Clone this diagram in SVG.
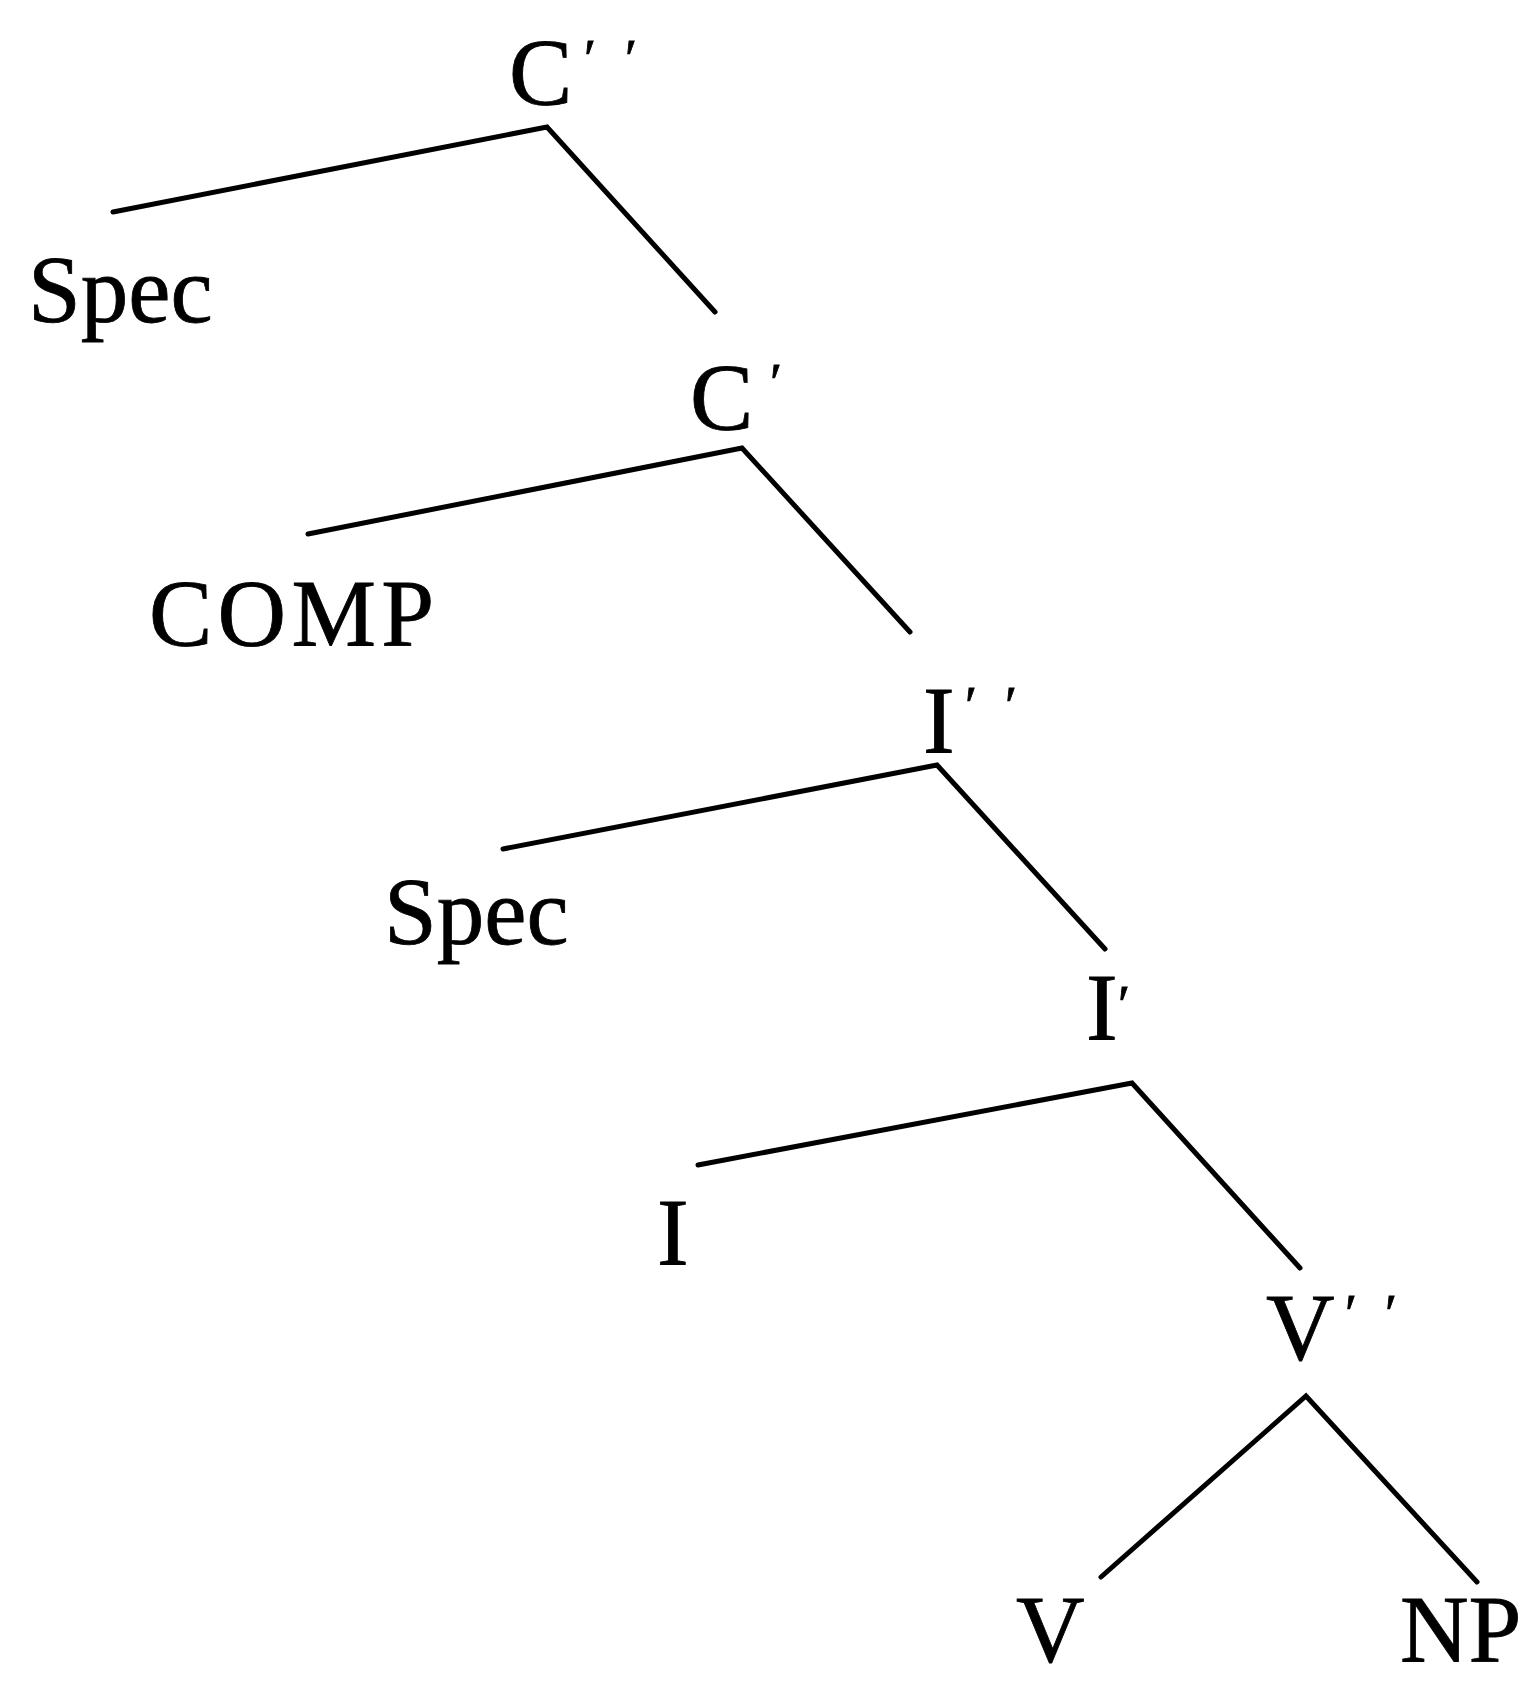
<svg xmlns="http://www.w3.org/2000/svg" width="1523" height="1681" viewBox="0 0 1523 1681">
  <style>
    .lbl { font-family: "Liberation Serif", "Times New Roman", serif; font-size: 95px; fill: #000; stroke: #000; stroke-width: 0.8; }
    .pr { font-size: 55px; }
    .edge { stroke: #000; stroke-width: 5; stroke-linecap: round; stroke-linejoin: miter; fill: none; }
  </style>
  <rect width="1523" height="1681" fill="#fff"/>

  <!-- branches -->
  <g id="connectors">
    <polyline class="edge" points="113,212 547,127 715,312"/>
    <polyline class="edge" points="308,534 742,448 910,632"/>
    <polyline class="edge" points="503,849 937,765 1105,949"/>
    <polyline class="edge" points="698,1165 1132,1083 1300,1268"/>
    <polyline class="edge" points="1101,1577 1306,1396 1477,1582"/>
  </g>

  <g id="node-Cbar2">
    <text class="lbl" x="509" y="105">C<tspan class="pr" x="584" y="77">′</tspan><tspan class="pr" x="625" y="77">′</tspan></text>
  </g>
  <g id="node-spec-c">
    <text class="lbl" x="28" y="322">Spec</text>
  </g>
  <g id="node-Cbar1">
    <text class="lbl" x="690" y="430">C<tspan class="pr" x="770" y="401">′</tspan></text>
  </g>
  <g id="node-comp">
    <text class="lbl" x="149" y="646" textLength="285" lengthAdjust="spacing">COMP</text>
  </g>
  <g id="node-Ibar2">
    <text class="lbl" x="923" y="753">I<tspan class="pr" x="965" y="724">′</tspan><tspan class="pr" x="1005" y="724">′</tspan></text>
  </g>
  <g id="node-spec-i">
    <text class="lbl" x="384" y="944">Spec</text>
  </g>
  <g id="node-Ibar1">
    <text class="lbl" x="1086" y="1040">I<tspan class="pr" x="1118" y="1023">′</tspan></text>
  </g>
  <g id="node-I">
    <text class="lbl" x="657" y="1265">I</text>
  </g>
  <g id="node-Vbar2">
    <text class="lbl" x="1266" y="1360">V<tspan class="pr" x="1345" y="1332">′</tspan><tspan class="pr" x="1385" y="1332">′</tspan></text>
  </g>
  <g id="node-V">
    <text class="lbl" x="1016" y="1662">V</text>
  </g>
  <g id="node-NP">
    <text class="lbl" x="1400" y="1662">NP</text>
  </g>
</svg>
